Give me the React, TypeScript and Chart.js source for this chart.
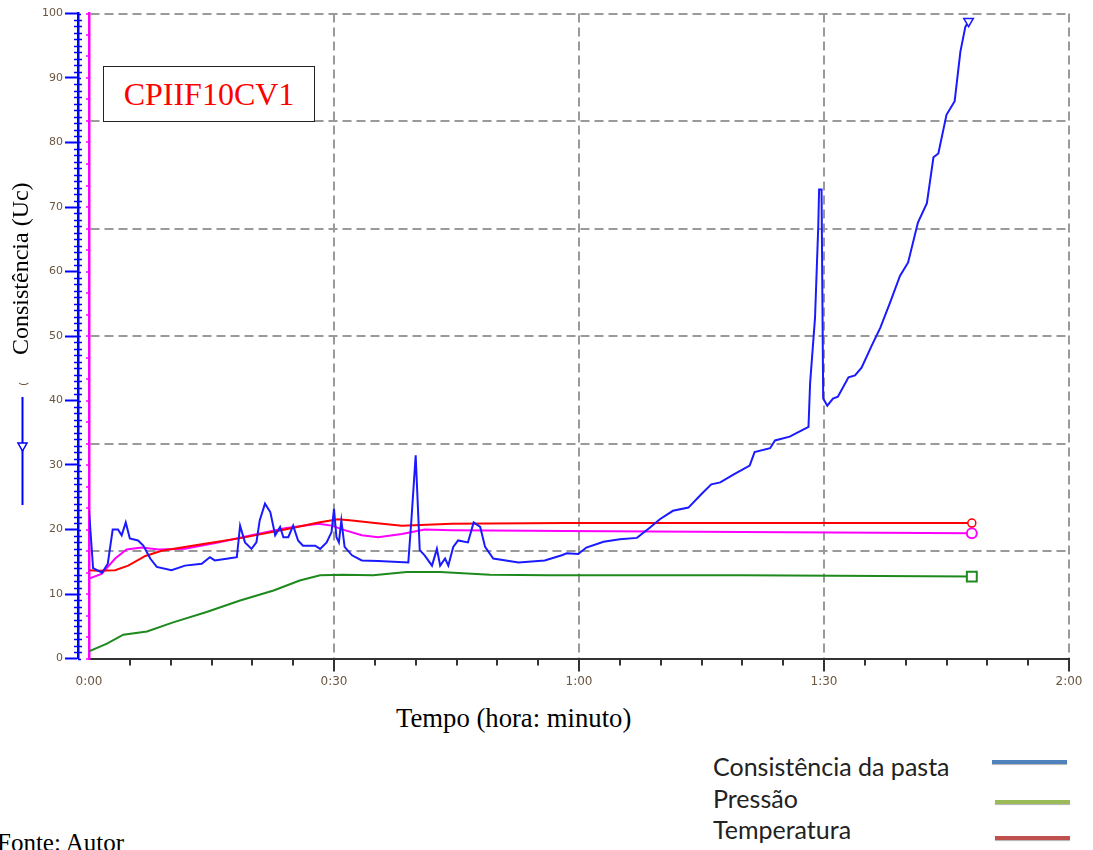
import React, { useEffect, useRef } from 'react';
import { Chart, registerables } from 'chart.js';
Chart.register(...registerables);

// ---- data (time in minutes, values in consistency units) ----
const consTime = [0, 0.5, 1.6, 2.3, 2.9, 3.55, 4.0, 4.5, 5.0, 6.0, 6.65, 7.5, 8.3, 10.1, 11.75, 13.8, 14.8, 15.4, 17.05, 18.1, 18.5, 19.1, 19.9, 20.5, 20.9, 21.55, 22.2, 22.8, 23.4, 23.8, 24.4, 25.0, 25.6, 26.2, 27.7, 28.3, 29.1, 29.7, 30.0, 30.3, 30.6, 30.9, 31.3, 32.2, 33.4, 35.4, 39.1, 39.5, 40.0, 40.5, 41.1, 42.0, 42.6, 43.0, 43.6, 44.0, 44.6, 45.2, 46.4, 47.1, 47.9, 48.5, 49.5, 52.6, 55.8, 57.9, 58.5, 59.9, 60.9, 63.0, 65.0, 67.1, 68.7, 69.9, 71.5, 73.4, 75.0, 76.2, 77.3, 78.9, 80.9, 81.5, 83.4, 84.0, 85.8, 88.1, 88.3, 88.9, 89.3, 89.4, 89.7, 89.9, 90.4, 91.1, 91.7, 93.0, 93.8, 94.6, 95.8, 96.9, 98.1, 99.3, 100.3, 101.5, 102.6, 103.4, 104.0, 105.0, 106.0, 106.7, 107.3, 107.7];
const consValue = [23.0, 14.0, 13.3, 14.7, 20.0, 20.0, 19.1, 21.1, 18.6, 18.3, 17.5, 15.5, 14.2, 13.7, 14.4, 14.7, 15.7, 15.2, 15.5, 15.7, 20.6, 18.0, 17.0, 18.0, 21.4, 24.0, 22.7, 19.1, 20.4, 18.8, 18.8, 20.6, 18.3, 17.5, 17.5, 17.0, 18.0, 19.6, 23.2, 18.8, 18.0, 21.4, 17.3, 16.0, 15.2, 15.1, 14.9, 21.9, 31.5, 16.8, 16.0, 14.4, 17.0, 14.4, 15.5, 14.4, 17.3, 18.3, 18.0, 21.1, 20.4, 17.3, 15.5, 14.9, 15.2, 16.0, 16.3, 16.2, 17.2, 18.1, 18.5, 18.7, 20.3, 21.6, 22.9, 23.4, 25.5, 27.0, 27.3, 28.5, 29.9, 32.0, 32.6, 33.8, 34.4, 35.9, 42.7, 52.8, 67.1, 72.7, 72.7, 40.3, 39.2, 40.3, 40.6, 43.6, 43.9, 45.1, 48.4, 51.3, 55.2, 59.3, 61.4, 67.6, 70.6, 77.7, 78.3, 84.3, 86.4, 94.1, 97.9, 98.8];

const tempTime = [0, 1.1, 3.2, 4.8, 6.9, 8.9, 13.8, 18.7, 24.0, 28.1, 30.5, 32.2, 35.0, 38.3, 44.4, 58.3, 80, 108.1];
const tempValue = [13.7, 13.6, 13.7, 14.4, 15.9, 16.7, 17.7, 18.7, 20.0, 21.1, 21.6, 21.4, 21.0, 20.6, 20.9, 21.0, 21.0, 21.0];

const sampleTime = [0, 1.55, 3.2, 4.6, 6.45, 8.5, 11.75, 15.8, 19.9, 24.0, 28.1, 29.7, 31.3, 33.4, 35.4, 38.3, 41.1, 44.4, 58.3, 80, 108.1];
const sampleValue = [12.4, 13.1, 15.5, 16.9, 17.2, 16.9, 17.0, 18.0, 19.1, 20.2, 20.9, 20.6, 19.9, 19.1, 18.8, 19.3, 20.0, 19.9, 19.75, 19.6, 19.4];

const pressTime = [0, 2.2, 4.2, 7.1, 10.3, 14.4, 18.5, 22.6, 25.8, 28.3, 31.1, 34.8, 38.9, 43.0, 49.1, 56.4, 80, 108.1];
const pressValue = [1.1, 2.3, 3.7, 4.2, 5.6, 7.2, 9.0, 10.55, 12.1, 12.9, 13.0, 12.9, 13.4, 13.4, 13.0, 12.9, 12.9, 12.7];

const xMin = 0, xMax = 120, xMajor = 30, xMinor = 5;
const yMin = 0, yMax = 100, yMajor = 10, yMinor = 1;
const y2Max = 30, y2GridEvery = 5;

const legendLabels = ['Consistência da pasta', 'Pressão', 'Temperatura'];
const legendColors = ['#4F81BD', '#9BBB59', '#C0504D'];

const toPts = (t: number[], v: number[]) => t.map((x, i) => ({ x, y: v[i] }));
const fmtTime = (v: number) => `${Math.floor(v / 60)}:${String(v % 60).padStart(2, '0')}`;
const lastOnly = (r: number) => (ctx: any) => (ctx.dataIndex === ctx.dataset.data.length - 1 ? r : 0);

const GRID = '#9a9a9a';
const TICKCOLOR = '#6a5640';

const decor = {
  id: 'decor',
  afterDraw(chart: any) {
    const { ctx, scales } = chart;
    const y = scales.y, x = scales.x;
    ctx.save();
    ctx.strokeStyle = '#0000ff';
    ctx.lineWidth = 1.5;
    for (let v = yMin; v <= yMax; v += yMinor) {
      const py = Math.round(y.getPixelForValue(v)) + 0.5;
      ctx.beginPath();
      if (v % yMajor === 0) { ctx.moveTo(y.right, py); ctx.lineTo(y.right + 3, py); }
      else { ctx.moveTo(y.right - 4, py); ctx.lineTo(y.right + 4, py); }
      ctx.stroke();
    }
    ctx.strokeStyle = '#333';
    ctx.lineWidth = 2;
    for (let m = xMin + xMinor; m < xMax; m += xMinor) {
      if (m % xMajor === 0) continue;
      const px = Math.round(x.getPixelForValue(m));
      ctx.beginPath();
      ctx.moveTo(px, x.top);
      ctx.lineTo(px, x.top + 7);
      ctx.stroke();
    }
    ctx.restore();
  },
};

export default function App() {
  const ref = useRef<HTMLCanvasElement>(null);
  useEffect(() => {
    const chart = new Chart(ref.current as HTMLCanvasElement, {
      type: 'line',
      data: {
        datasets: [
          {
            label: 'Consistência', data: toPts(consTime, consValue), borderColor: '#1a1aff', borderWidth: 2,
            pointRadius: lastOnly(5.5), pointStyle: 'triangle', pointRotation: 180,
            pointBackgroundColor: '#fff', pointBorderColor: '#1a1aff', pointBorderWidth: 1.5,
          },
          {
            label: 'Temperatura', data: toPts(tempTime, tempValue), borderColor: '#ff0000', borderWidth: 2,
            pointRadius: lastOnly(4), pointStyle: 'circle',
            pointBackgroundColor: '#fff', pointBorderColor: '#ff0000', pointBorderWidth: 1.5,
          },
          {
            label: 'Temperatura amostra', data: toPts(sampleTime, sampleValue), borderColor: '#ff00ff', borderWidth: 2,
            pointRadius: lastOnly(5), pointStyle: 'circle',
            pointBackgroundColor: '#fff', pointBorderColor: '#ff00ff', pointBorderWidth: 2,
          },
          {
            label: 'Pressão', data: toPts(pressTime, pressValue), borderColor: '#1e8a1e', borderWidth: 2,
            pointRadius: lastOnly(7), pointStyle: 'rect',
            pointBackgroundColor: '#fff', pointBorderColor: '#1e8a1e', pointBorderWidth: 2,
          },
        ],
      },
      options: {
        responsive: false,
        animation: false,
        events: [],
        layout: { padding: { left: 0, top: 13.5, right: 24, bottom: 0 } },
        elements: { line: { tension: 0 } },
        plugins: { legend: { display: false }, tooltip: { enabled: false } },
        scales: {
          x: {
            type: 'linear', min: xMin, max: xMax,
            afterFit: (s: any) => { s.height = 41.5; },
            ticks: { stepSize: xMajor, callback: (v: any) => fmtTime(Number(v)), font: { family: 'DejaVu Sans', size: 12 }, color: TICKCOLOR, padding: 3, maxRotation: 0 },
            grid: {
              color: (c: any) => (c.tick && c.tick.value === 0 ? 'rgba(0,0,0,0)' : GRID),
              tickColor: (c: any) => (c.tick && c.tick.value === 0 ? 'rgba(0,0,0,0)' : '#333'),
              lineWidth: 2, tickLength: 13, tickWidth: 2,
            },
            border: { color: '#333', width: 2, dash: [9, 5] },
          },
          y: {
            type: 'linear', position: 'left', min: yMin, max: yMax, weight: 2,
            afterFit: (s: any) => { s.width = 78; },
            ticks: { stepSize: yMajor, font: { family: 'DejaVu Sans', size: 11 }, color: TICKCOLOR, padding: 2 },
            grid: { drawOnChartArea: false, color: '#0000ff', tickColor: '#0000ff', tickLength: 13, tickWidth: 2 },
            border: { color: '#0000ff', width: 2.5 },
          },
          y2: {
            type: 'linear', position: 'left', min: 0, max: y2Max, weight: 1,
            afterFit: (s: any) => { s.width = 11; },
            ticks: { stepSize: 1, display: false },
            grid: {
              drawOnChartArea: true,
              color: (c: any) => (c.tick && c.tick.value % y2GridEvery === 0 && c.tick.value !== 0 ? GRID : 'rgba(0,0,0,0)'),
              lineWidth: 2, tickColor: '#ff00ff', tickLength: 3, tickWidth: 1.5,
            },
            border: { color: '#ff00ff', width: 2.5, dash: [9, 5] },
          },
        },
      } as any,
      plugins: [decor],
    });
    return () => chart.destroy();
  }, []);

  const serif = "'Liberation Serif', 'Times New Roman', serif";
  return (
    <div style={{ position: 'absolute', left: 0, top: 0, width: 1093, height: 850, overflow: 'hidden', background: '#fff' }}>
      <canvas ref={ref} width={1093} height={700} style={{ position: 'absolute', left: 0, top: 0, display: 'block' }} />
      <div style={{ position: 'absolute', left: 103, top: 66, width: 212, height: 56, boxSizing: 'border-box', border: '1.5px solid #222', background: '#fff', display: 'flex', alignItems: 'center', justifyContent: 'center', fontFamily: serif, fontSize: 32, color: '#ff0000' }}>CPIIF10CV1</div>
      <div style={{ position: 'absolute', left: 8, top: 355, width: 300, height: 24, lineHeight: '24px', fontFamily: serif, fontSize: 24, color: '#000', whiteSpace: 'nowrap', transformOrigin: '0 0', transform: 'rotate(-90deg)' }}>Consistência (Uc)</div>
      <div style={{ position: 'absolute', left: 18, top: 386, width: 12, height: 12, lineHeight: '12px', fontFamily: "'DejaVu Sans', sans-serif", fontSize: 11, color: '#6a5640', transformOrigin: '0 0', transform: 'rotate(-90deg)' }}>(</div>
      <svg style={{ position: 'absolute', left: 12, top: 395 }} width={22} height={112}>
        <line x1={10.5} y1={2} x2={10.5} y2={110} stroke="#0000ff" strokeWidth={2} />
        <polygon points="6,48 15,48 10.5,56" fill="#fff" stroke="#0000ff" strokeWidth={1.5} />
      </svg>
      <div style={{ position: 'absolute', left: 396, top: 705, lineHeight: '26px', fontFamily: serif, fontSize: 26.7, color: '#000', whiteSpace: 'nowrap' }}>Tempo (hora: minuto)</div>
      {legendLabels.map((lab, i) => (
        <React.Fragment key={lab}>
          <div style={{ position: 'absolute', left: 713, top: 751 + i * 31.5, lineHeight: '30px', fontFamily: 'Lato, sans-serif', fontSize: 25, color: '#222', whiteSpace: 'nowrap' }}>{lab}</div>
          <div style={{ position: 'absolute', left: i === 0 ? 992 : 995, top: [760, 800, 836][i], width: 75, height: 4, background: legendColors[i], boxShadow: '0 1px 1px rgba(0,0,0,0.3)' }} />
        </React.Fragment>
      ))}
      <div style={{ position: 'absolute', left: -3, top: 830, lineHeight: '25px', fontFamily: serif, fontSize: 25, color: '#000', whiteSpace: 'nowrap' }}>Fonte: Autor</div>
    </div>
  );
}
